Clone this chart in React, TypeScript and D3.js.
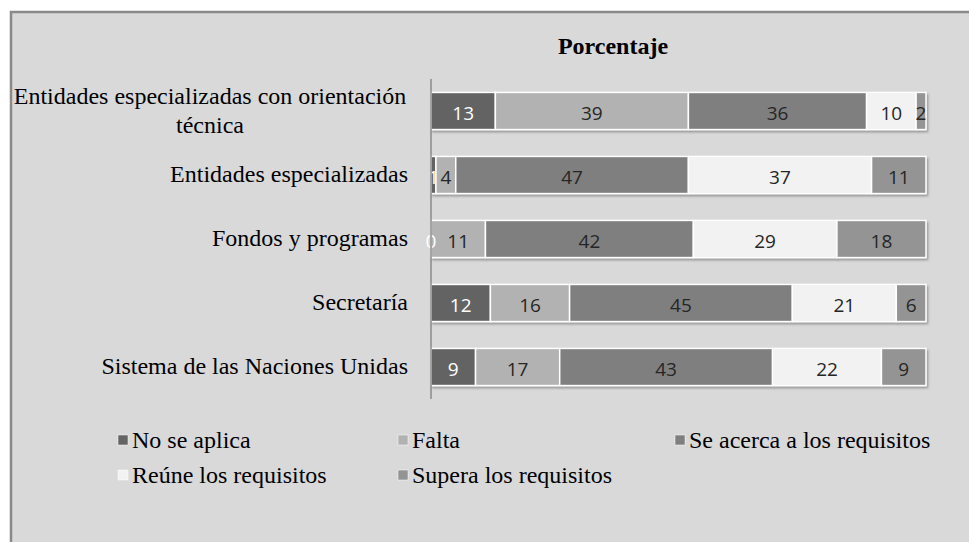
import * as d3 from 'd3';
import React from 'react';

// category labels (already split in lines like the original)
const categoryLabels = [
  ['Entidades especializadas con orientación', 'técnica'],
  ['Entidades especializadas'],
  ['Fondos y programas'],
  ['Secretaría'],
  ['Sistema de las Naciones Unidas'],
];

const seriesNames = [
  'No se aplica',
  'Falta',
  'Se acerca a los requisitos',
  'Reúne los requisitos',
  'Supera los requisitos',
];

const noAplica = [13, 1, 0, 12, 9];
const falta = [39, 4, 11, 16, 17];
const seAcerca = [36, 47, 42, 45, 43];
const reune = [10, 37, 29, 21, 22];
const supera = [2, 11, 18, 6, 9];

const colors = ['#646464', '#b2b2b2', '#7f7f7f', '#f2f2f2', '#949494'];
const labelColors = ['#ffffff', '#262626', '#262626', '#262626', '#262626'];

const W = 969;
const H = 542;
const serif = '"Liberation Serif", "Times New Roman", serif';

const App = () => {
  const rows = categoryLabels.map((lines, i) => ({
    key: i,
    lines,
    s0: noAplica[i],
    s1: falta[i],
    s2: seAcerca[i],
    s3: reune[i],
    s4: supera[i],
  }));
  const keys = ['s0', 's1', 's2', 's3', 's4'];
  const stacked = d3.stack().keys(keys)(rows as any);

  const x = d3.scaleLinear().domain([0, 100]).range([431, 926]);
  const y = d3
    .scaleBand<number>()
    .domain(rows.map((r) => r.key))
    .range([79, 399])
    .paddingInner(0.42)
    .paddingOuter(0.21);

  const bandCenter = (i: number) => (y(i) as number) + y.bandwidth() / 2;

  // legend layout: 3 columns, 2 rows
  const legendX = [118, 398, 675];
  const legendY = [448, 483];

  return (
    <svg
      width={W}
      height={H}
      style={{ position: 'absolute', left: 0, top: 0, background: '#fff' }}
    >
      <defs>
        <filter id="shadow" x="-5%" y="-20%" width="110%" height="160%">
          <feDropShadow dx="1.5" dy="2" stdDeviation="1" floodColor="#000" floodOpacity="0.3" />
        </filter>
      </defs>
      <rect x={11} y={12} width={W + 20} height={H + 20} fill="#d9d9d9" stroke="#8a8a8a" strokeWidth={2.5} />

      <text
        x={613}
        y={54}
        textAnchor="middle"
        fontFamily={serif}
        fontWeight="bold"
        fontSize={24}
        fill="#000"
      >
        Porcentaje
      </text>

      {/* category labels */}
      {rows.map((r) => {
        const c = bandCenter(r.key);
        const lh = 29;
        const top = c - ((r.lines.length - 1) * lh) / 2 + 7;
        return r.lines.map((line, j) => (
          <text
            key={`${r.key}-${j}`}
            x={r.lines.length > 1 ? 210 : 408}
            y={top + j * lh}
            textAnchor={r.lines.length > 1 ? 'middle' : 'end'}
            fontFamily={serif}
            fontSize={24}
            fill="#000"
          >
            {line}
          </text>
        ));
      })}

      {/* bars */}
      <g filter="url(#shadow)">
        {stacked.map((layer, si) =>
          layer.map((d, i) => (
            <rect
              key={`${si}-${i}`}
              x={x(d[0])}
              y={y(rows[i].key)}
              width={Math.max(0, x(d[1]) - x(d[0]))}
              height={y.bandwidth()}
              fill={colors[si]}
              stroke="#ffffff"
              strokeWidth={1.5}
            />
          )),
        )}
      </g>

      {/* value labels */}
      {stacked.map((layer, si) =>
        layer.map((d, i) => (
          <text
            key={`l-${si}-${i}`}
            x={(x(d[0]) + x(d[1])) / 2}
            y={bandCenter(rows[i].key) + 9}
            textAnchor="middle"
            fontFamily='"Open Sans", sans-serif'
            fontSize={19}
            fill={labelColors[si]}
          >
            {d[1] - d[0]}
          </text>
        )),
      )}

      {/* axis line */}
      <line x1={431} x2={431} y1={79} y2={399} stroke="#8a8a8a" strokeWidth={1.5} />

      {/* legend */}
      {seriesNames.map((name, i) => {
        const lx = legendX[i % 3];
        const ly = legendY[Math.floor(i / 3)];
        return (
          <g key={name}>
            <rect x={lx} y={ly - 13} width={10} height={10} fill={colors[i]} stroke="#ffffff" strokeWidth={0.5} />
            <text x={lx + 14} y={ly} fontFamily={serif} fontSize={24} fill="#000">
              {name}
            </text>
          </g>
        );
      })}
    </svg>
  );
};

export default App;
